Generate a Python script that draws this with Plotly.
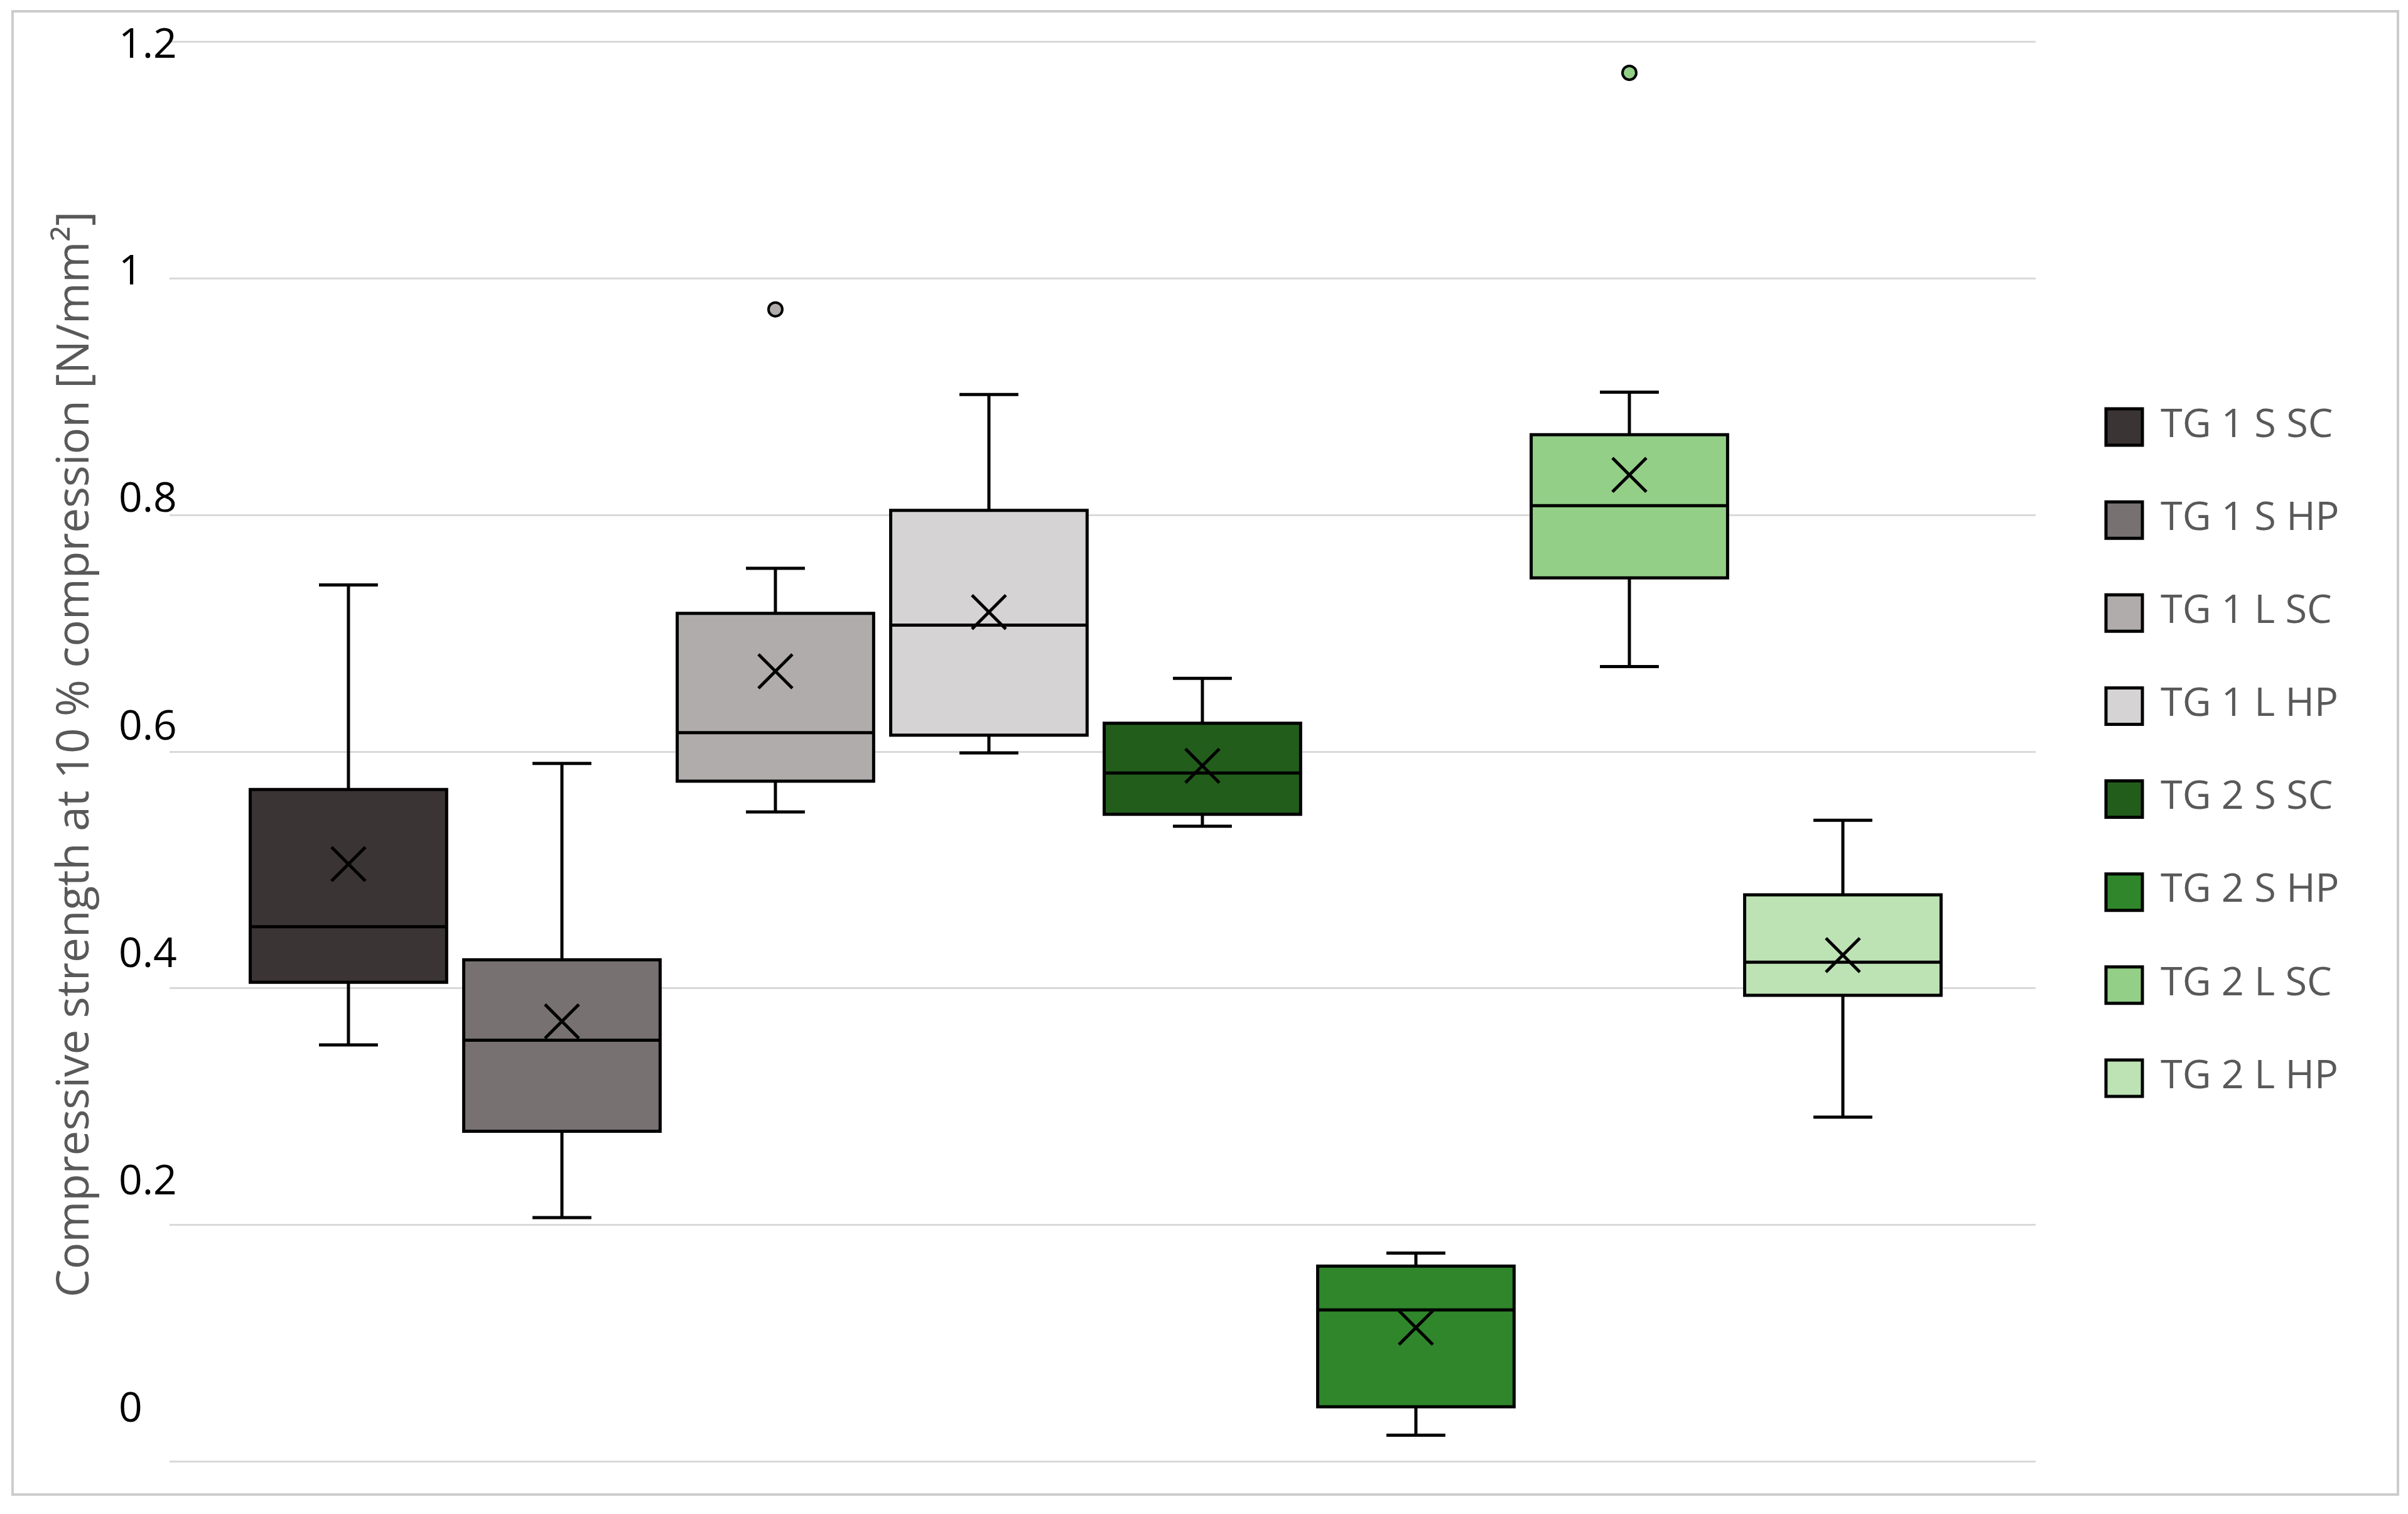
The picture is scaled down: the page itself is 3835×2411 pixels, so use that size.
import plotly.graph_objects as go

# ---- data ----
groups = ["TG 1 S SC", "TG 1 S HP", "TG 1 L SC", "TG 1 L HP",
          "TG 2 S SC", "TG 2 S HP", "TG 2 L SC", "TG 2 L HP"]
lower_fence = [0.352, 0.206, 0.549, 0.599, 0.537, 0.022, 0.672, 0.291]
q1_vals = [0.405, 0.279, 0.575, 0.614, 0.547, 0.046, 0.747, 0.394]
median_vals = [0.452, 0.356, 0.616, 0.707, 0.582, 0.128, 0.808, 0.422]
q3_vals = [0.568, 0.424, 0.717, 0.804, 0.624, 0.165, 0.868, 0.479]
upper_fence = [0.741, 0.590, 0.755, 0.902, 0.662, 0.176, 0.904, 0.542]
mean_vals = [0.505, 0.372, 0.668, 0.718, 0.588, 0.113, 0.834, 0.428]
outlier_groups = ["TG 1 L SC", "TG 2 L SC"]
outlier_vals = [0.974, 1.174]

colors = ["#3b3434", "#777172", "#b0acab", "#d5d3d4",
          "#225d1c", "#2f862b", "#94cf88", "#bde3b5"]

# y labels in the source sit slightly off their gridlines
grid_vals = [0, 0.2, 0.4, 0.6, 0.8, 1.0, 1.2]
tick_text = ["0", "0.2", "0.4", "0.6", "0.8", "1", "1.2"]
tick_label_pos = [0.0457, 0.2379, 0.4300, 0.6222, 0.8150, 1.0072, 1.1988]

W, H = 3835, 2411
FONT = "Open Sans"
PX_PER_UNIT = 1883.5   # 0.2 per ~376.7 px in the source
Y_PAD = 0.01           # keeps the 0 and 1.2 gridlines off the plot edge

fig = go.Figure()

for i, g in enumerate(groups):
    fig.add_trace(go.Box(
        x=[g], q1=[q1_vals[i]], median=[median_vals[i]], q3=[q3_vals[i]],
        lowerfence=[lower_fence[i]], upperfence=[upper_fence[i]],
        name=g, fillcolor=colors[i],
        line=dict(color="black", width=5),
        whiskerwidth=0.3, boxpoints=False, showlegend=False,
    ))

# mean markers (X)
fig.add_trace(go.Scatter(
    x=groups, y=mean_vals, mode="markers", showlegend=False,
    marker=dict(symbol="x-thin", size=54, color="black",
                line=dict(color="black", width=5)),
))

# outliers
out_colors = [colors[groups.index(g)] for g in outlier_groups]
fig.add_trace(go.Scatter(
    x=outlier_groups, y=outlier_vals, mode="markers", showlegend=False,
    marker=dict(symbol="circle", size=22, color=out_colors,
                line=dict(color="black", width=4)),
))

# empty trace so the tick-label axis gets drawn
fig.add_trace(go.Scatter(x=[], y=[], yaxis="y2", showlegend=False,
                         hoverinfo="skip"))

# legend drawn as its own little subplot (big square swatches)
fig.add_trace(go.Scatter(
    x=[0] * len(groups), y=groups, xaxis="x3", yaxis="y3",
    mode="markers", showlegend=False, hoverinfo="skip",
    marker=dict(symbol="square", size=58, color=colors,
                line=dict(color="black", width=5)),
))
fig.add_trace(go.Scatter(
    x=[58] * len(groups), y=groups, xaxis="x3", yaxis="y3",
    mode="text", text=groups, textposition="middle right",
    textfont=dict(family=FONT, size=63, color="#595959"),
    showlegend=False, hoverinfo="skip",
))

y_range = [-Y_PAD, 1.2 + Y_PAD]
pad_px = Y_PAD * PX_PER_UNIT

fig.update_layout(
    width=W, height=H,
    margin=dict(l=0, r=0, t=0, b=0, autoexpand=False),
    paper_bgcolor="white", plot_bgcolor="white",
    font=dict(family=FONT, color="black"),
    boxgap=0.08, boxgroupgap=0,
    xaxis=dict(domain=[270 / W, 3242 / W], type="category",
               categoryorder="array", categoryarray=groups,
               range=[-0.838, 7.903], showticklabels=False, automargin=False,
               showgrid=False, zeroline=False, showline=False, ticks=""),
    yaxis=dict(domain=[(H - 2327 - pad_px) / H, (H - 67 + pad_px) / H],
               range=y_range, tickvals=grid_vals, showticklabels=False,
               gridcolor="#d9d9d9", gridwidth=3, zeroline=False,
               showline=False, ticks="", automargin=False),
    yaxis2=dict(overlaying="y", anchor="free", position=188 / W, side="right",
                range=y_range, tickvals=tick_label_pos, ticktext=tick_text,
                showgrid=False, zeroline=False, showline=False, ticks="",
                automargin=False,
                tickfont=dict(family=FONT, size=66, color="black")),
    xaxis3=dict(domain=[3250 / W, 3800 / W], range=[-133, 417],
                visible=False, anchor="y3", automargin=False),
    yaxis3=dict(domain=[(H - 1791) / H, (H - 606) / H], anchor="x3",
                type="category", categoryorder="array", categoryarray=groups,
                range=[7.5, -0.5], visible=False, automargin=False),
    annotations=[dict(
        text="Compressive strength at 10 % compression [N/mm²]",
        xref="paper", yref="paper", x=113 / W, y=(H - 1202) / H,
        textangle=-90, showarrow=False, xanchor="center", yanchor="middle",
        font=dict(family=FONT, size=71, color="#595959"),
    )],
    shapes=[dict(type="rect", xref="paper", yref="paper",
                 x0=20 / W, x1=3819 / W, y0=(H - 2380) / H, y1=(H - 18) / H,
                 line=dict(color="#cccccc", width=4), layer="below")],
)

fig.write_html("out.html", config={"displayModeBar": False},
               post_script="document.body.style.margin='0';document.body.style.overflow='hidden';")
